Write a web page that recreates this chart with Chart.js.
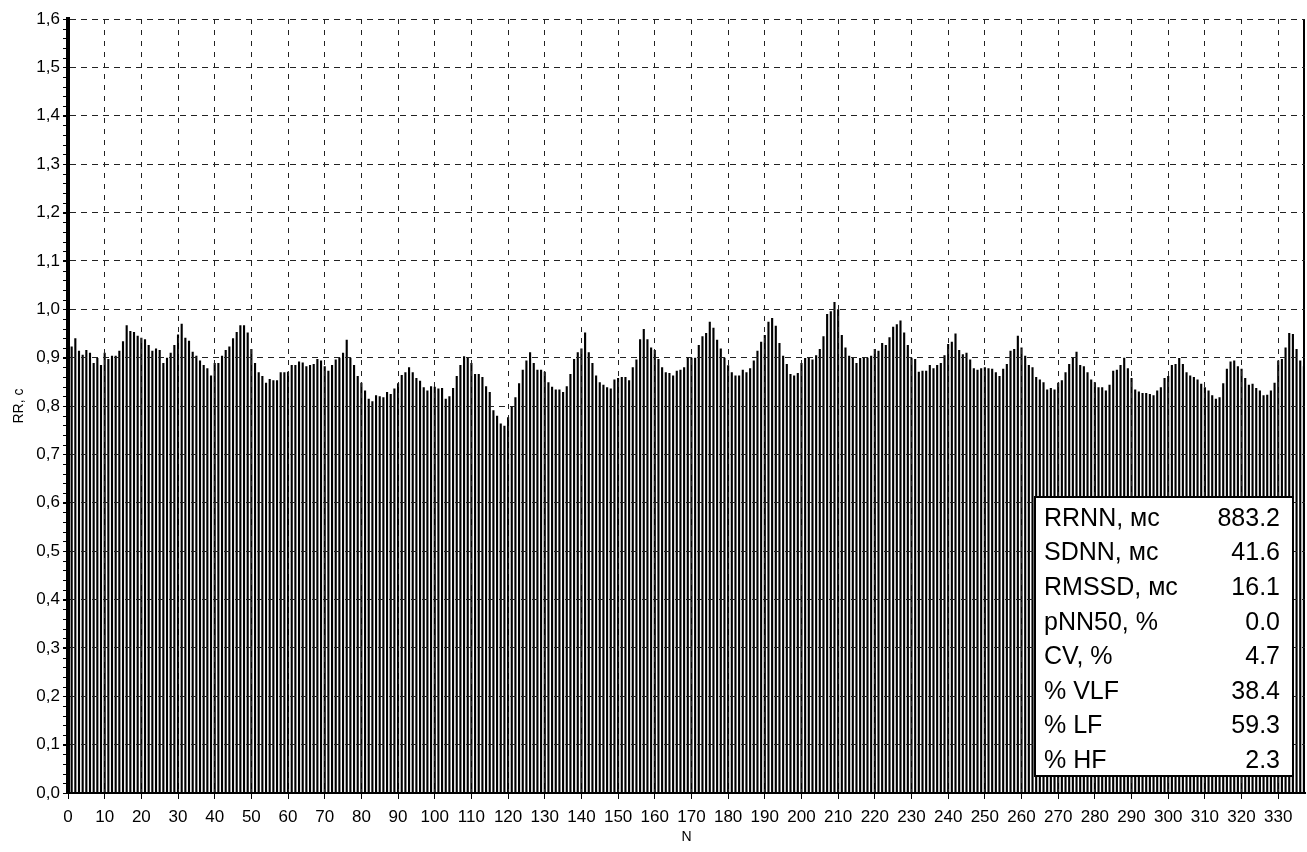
<!DOCTYPE html>
<html>
<head>
<meta charset="utf-8">
<script src="https://cdn.jsdelivr.net/npm/chart.js@4"></script>
<style>
  html, body { margin: 0; padding: 0; background: #fff; }
  #wrap { width: 1307px; height: 852px; position: relative; }
</style>
</head>
<body>
<div id="wrap"><canvas id="rrChart"></canvas></div>
<script>
// RR intervals, seconds, one per beat (N = 0..337)
const rrSeconds = [
  0.92, 0.923, 0.94, 0.914, 0.906, 0.916, 0.91, 0.889, 0.899, 0.885,
  0.91, 0.897, 0.904, 0.904, 0.914, 0.934, 0.967, 0.955, 0.953, 0.945,
  0.941, 0.938, 0.926, 0.914, 0.919, 0.916, 0.889, 0.90, 0.91, 0.926,
  0.948, 0.97, 0.941, 0.935, 0.912, 0.904, 0.894, 0.885, 0.878, 0.863,
  0.889, 0.889, 0.904, 0.916, 0.923, 0.94, 0.953, 0.967, 0.967, 0.952,
  0.918, 0.889, 0.87, 0.862, 0.848, 0.856, 0.853, 0.853, 0.87, 0.87,
  0.871, 0.885, 0.885, 0.892, 0.89, 0.882, 0.885, 0.887, 0.897, 0.894,
  0.882, 0.873, 0.885, 0.896, 0.90, 0.91, 0.937, 0.90, 0.885, 0.862,
  0.848, 0.832, 0.815, 0.81, 0.822, 0.82, 0.818, 0.829, 0.825, 0.836,
  0.847, 0.864, 0.87, 0.88, 0.87, 0.858, 0.852, 0.839, 0.832, 0.841,
  0.84, 0.836, 0.837, 0.815, 0.82, 0.837, 0.862, 0.885, 0.903, 0.899,
  0.889, 0.866, 0.866, 0.86, 0.841, 0.829, 0.791, 0.78, 0.764, 0.759,
  0.777, 0.80, 0.818, 0.847, 0.875, 0.894, 0.911, 0.889, 0.875, 0.875,
  0.871, 0.849, 0.84, 0.834, 0.834, 0.829, 0.841, 0.866, 0.897, 0.911,
  0.919, 0.952, 0.911, 0.889, 0.863, 0.849, 0.844, 0.839, 0.836, 0.855,
  0.858, 0.86, 0.86, 0.853, 0.88, 0.896, 0.938, 0.959, 0.938, 0.921,
  0.916, 0.897, 0.88, 0.87, 0.868, 0.863, 0.873, 0.875, 0.88, 0.90,
  0.90, 0.90, 0.926, 0.944, 0.951, 0.974, 0.962, 0.937, 0.919, 0.90,
  0.884, 0.87, 0.863, 0.863, 0.875, 0.87, 0.878, 0.894, 0.914, 0.933,
  0.947, 0.974, 0.982, 0.966, 0.93, 0.904, 0.887, 0.866, 0.863, 0.868,
  0.889, 0.899, 0.899, 0.896, 0.905, 0.918, 0.944, 0.99, 0.996, 1.015,
  1.0, 0.947, 0.921, 0.904, 0.90, 0.889, 0.899, 0.899, 0.90, 0.904,
  0.918, 0.914, 0.93, 0.926, 0.942, 0.964, 0.969, 0.977, 0.952, 0.926,
  0.90, 0.897, 0.871, 0.873, 0.873, 0.885, 0.878, 0.885, 0.889, 0.905,
  0.928, 0.933, 0.95, 0.916, 0.907, 0.91, 0.896, 0.878, 0.875, 0.878,
  0.88, 0.878, 0.877, 0.87, 0.862, 0.877, 0.887, 0.914, 0.918, 0.945,
  0.921, 0.904, 0.885, 0.88, 0.86, 0.855, 0.849, 0.834, 0.837, 0.834,
  0.848, 0.853, 0.87, 0.887, 0.90, 0.912, 0.885, 0.882, 0.87, 0.855,
  0.849, 0.839, 0.839, 0.832, 0.844, 0.873, 0.875, 0.885, 0.90, 0.878,
  0.858, 0.834, 0.83, 0.827, 0.827, 0.825, 0.822, 0.832, 0.839, 0.858,
  0.862, 0.885, 0.887, 0.899, 0.887, 0.87, 0.863, 0.86, 0.855, 0.846,
  0.839, 0.832, 0.822, 0.815, 0.818, 0.847, 0.877, 0.892, 0.894, 0.882,
  0.877, 0.858, 0.844, 0.846, 0.837, 0.832, 0.822, 0.823, 0.832, 0.848,
  0.894, 0.897, 0.921, 0.951, 0.949, 0.918, 0.894, 0.882
];
const beats = rrSeconds.map((v, i) => i);

const statLabels = ["RRNN, мс", "SDNN, мс", "RMSSD, мс", "pNN50, %", "CV, %", "% VLF", "% LF", "% HF"];
const statValues = ["883.2", "41.6", "16.1", "0.0", "4.7", "38.4", "59.3", "2.3"];

const tickFont = { family: "'Liberation Sans', Arial, sans-serif", size: 17 };
const titleFont = { family: "'Liberation Sans', Arial, sans-serif", size: 14 };

// white box with the HRV summary in the lower right corner
const statsBox = {
    id: 'statsBox',
    afterDraw(chart) {
        const { ctx, chartArea } = chart;
        const right = chartArea.right - 12;
        const left = right - 258;
        const bottom = chartArea.bottom - 17;
        const top = bottom - 279;
        ctx.save();
        ctx.fillStyle = '#fff';
        ctx.fillRect(left, top, right - left, bottom - top);
        ctx.lineWidth = 2;
        ctx.strokeStyle = '#000';
        ctx.strokeRect(left, top, right - left, bottom - top);
        ctx.fillStyle = '#000';
        ctx.font = "25px 'Liberation Sans', Arial, sans-serif";
        ctx.textBaseline = 'middle';
        statLabels.forEach((lab, i) => {
            const y = top + 22 + i * 34.6;
            ctx.textAlign = 'left';
            ctx.fillText(lab, left + 9, y);
            ctx.textAlign = 'right';
            ctx.fillText(statValues[i], right - 13, y);
        });
        ctx.restore();
    }
};

// right frame line and small minor ticks on the left axis
const frame = {
    id: 'frame',
    afterDatasetsDraw(chart) {
        const { ctx, chartArea, scales } = chart;
        ctx.save();
        ctx.strokeStyle = '#000';
        ctx.lineWidth = 2;
        ctx.beginPath();
        ctx.moveTo(chartArea.right - 1, chartArea.top);
        ctx.lineTo(chartArea.right - 1, chartArea.bottom);
        ctx.stroke();
        ctx.lineWidth = 1;
        ctx.beginPath();
        for (let k = 0; k <= 80; k++) {
            const y = Math.round(scales.y.getPixelForValue(k * 0.02)) + 0.5;
            ctx.moveTo(chartArea.left - 5, y);
            ctx.lineTo(chartArea.left - 2, y);
        }
        ctx.stroke();
        ctx.restore();
    }
};

const ctx = document.getElementById('rrChart').getContext('2d');
new Chart(ctx, {
    type: 'bar',
    data: {
        datasets: [{
            data: rrSeconds.map((v, i) => ({ x: beats[i], y: v })),
            backgroundColor: '#000',
            borderWidth: 0,
            barPercentage: 0.58,
            categoryPercentage: 1.0
        }]
    },
    options: {
        responsive: true,
        maintainAspectRatio: false,
        animation: false,
        layout: { padding: { top: 19, right: 2, left: 0, bottom: 0 } },
        plugins: {
            legend: { display: false },
            tooltip: { enabled: false }
        },
        scales: {
            x: {
                type: 'linear',
                min: 0,
                max: 337.3,
                offset: false,
                afterFit(scale) { scale.height = 59; },
                ticks: {
                    stepSize: 10,
                    includeBounds: false,
                    autoSkip: false,
                    maxRotation: 0,
                    minRotation: 0,
                    padding: 8,
                    color: '#000',
                    font: tickFont
                },
                grid: {
                    offset: false,
                    color: '#222',
                    lineWidth: 1,
                    tickLength: 6,
                    tickColor: '#000',
                    z: 1
                },
                border: { color: '#000', width: 2, dash: [5, 6], z: 2 },
                title: {
                    display: true,
                    text: 'N',
                    color: '#000',
                    font: titleFont,
                    padding: { top: 0, bottom: 6 }
                }
            },
            y: {
                min: 0,
                max: 1.6,
                afterFit(scale) { scale.width = 68; },
                ticks: {
                    stepSize: 0.1,
                    color: '#000',
                    font: tickFont,
                    padding: 3,
                    callback: (v) => v.toFixed(1).replace('.', ',')
                },
                grid: {
                    color: '#222',
                    lineWidth: 1,
                    tickLength: 5,
                    tickColor: '#000',
                    z: 1
                },
                border: { color: '#000', width: 4, dash: [6, 5], z: 2 },
                title: {
                    display: true,
                    text: 'RR, c',
                    color: '#000',
                    font: titleFont,
                    padding: { top: 11, bottom: 0 }
                }
            }
        }
    },
    plugins: [frame, statsBox]
});
</script>
</body>
</html>
